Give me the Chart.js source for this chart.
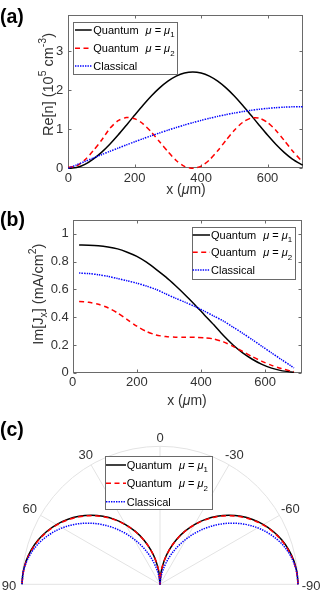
<!DOCTYPE html>
<html><head><meta charset="utf-8">
<script src="https://cdn.jsdelivr.net/npm/chart.js@4"></script>
<style>
html,body{margin:0;padding:0;background:#fff;width:333px;height:593px;overflow:hidden}
canvas{position:absolute;left:0}
</style></head><body>
<canvas id="ca" width="333" height="200" style="top:0px"></canvas>
<canvas id="cb" width="333" height="210" style="top:200px"></canvas>
<canvas id="cc" width="333" height="183" style="top:410px"></canvas>
<script>
// ---------- data ----------
const seriesNames = ['Quantum μ = μ1', 'Quantum μ = μ2', 'Classical'];

// panel (a): Re[n] (10^5 cm^-3) vs x (um)
const xA  = [0,25,50,75,100,125,150,175,200,225,250,275,300,325,350,375,400,425,450,475,500,525,550,575,600,625,650,675,700,706];
const aQ1 = [0,0.02,0.1,0.236,0.409,0.618,0.853,1.106,1.364,1.617,1.853,2.061,2.234,2.363,2.443,2.47,2.443,2.363,2.234,2.061,1.853,1.617,1.364,1.106,0.853,0.618,0.409,0.236,0.107,0.084];
const aQ2 = [0.03,0.06,0.215,0.449,0.718,1.02,1.22,1.30,1.27,1.14,0.93,0.68,0.43,0.2,0.05,0.0,0.056,0.215,0.449,0.718,0.975,1.176,1.286,1.286,1.176,0.975,0.718,0.449,0.215,0.17];
const aCl = [0,0.088,0.175,0.262,0.349,0.434,0.518,0.600,0.680,0.758,0.834,0.907,0.978,1.045,1.110,1.171,1.228,1.281,1.331,1.376,1.417,1.454,1.486,1.514,1.536,1.554,1.568,1.576,1.580,1.580];
const xTicksA = [0,200,400,600];
const yTicksA = [0,1,2,3];

// panel (b): Im[Jx] (mA/cm^2) vs x (um)
const xB  = [20,50,80,110,140,170,200,230,260,290,320,350,380,410,440,470,500,530,560,590,620,650,680,690];
const bQ1 = [0.920,0.919,0.915,0.906,0.892,0.868,0.838,0.796,0.745,0.690,0.628,0.562,0.492,0.418,0.345,0.268,0.200,0.143,0.097,0.060,0.033,0.015,0.005,0.003];
const bQ2 = [0.513,0.507,0.493,0.468,0.430,0.383,0.335,0.297,0.272,0.260,0.256,0.255,0.255,0.252,0.243,0.222,0.190,0.153,0.115,0.082,0.053,0.030,0.012,0.007];
const bCl = [0.718,0.714,0.706,0.694,0.678,0.662,0.645,0.624,0.600,0.568,0.537,0.508,0.478,0.444,0.408,0.372,0.328,0.284,0.238,0.190,0.143,0.096,0.050,0.034];
const xTicksB = [0,200,400,600];
const yTicksB = [0,0.2,0.4,0.6,0.8,1];

// panel (c): polar, angle in degrees, normalised r
const thetaC = [-90,-85,-80,-75,-70,-65,-60,-55,-50,-45,-40,-35,-30,-25,-20,-15,-10,-5,0,5,10,15,20,25,30,35,40,45,50,55,60,65,70,75,80,85,90];
const cQ1 = [1,0.996,0.985,0.966,0.940,0.906,0.866,0.819,0.766,0.707,0.643,0.574,0.5,0.423,0.342,0.259,0.174,0.087,0,0.087,0.174,0.259,0.342,0.423,0.5,0.574,0.643,0.707,0.766,0.819,0.866,0.906,0.940,0.966,0.985,0.996,1];
const cQ2 = [1,0.994,0.982,0.962,0.936,0.902,0.862,0.815,0.762,0.703,0.639,0.570,0.497,0.420,0.340,0.257,0.172,0.086,0,0.086,0.172,0.257,0.340,0.420,0.497,0.570,0.639,0.703,0.762,0.815,0.862,0.902,0.936,0.962,0.982,0.994,1];
const cCl = [1,0.995,0.979,0.953,0.917,0.871,0.818,0.757,0.689,0.616,0.539,0.459,0.379,0.300,0.223,0.151,0.086,0.033,0,0.033,0.086,0.151,0.223,0.300,0.379,0.459,0.539,0.616,0.689,0.757,0.818,0.871,0.917,0.953,0.979,0.995,1];
const angleTicks = [90,60,30,0,-30,-60,-90];

// ---------- helpers ----------
const FONT = '"Liberation Sans", Arial, Helvetica, sans-serif';
const TXT = '#333333', AXIS = '#6a6a6a', GRID = '#e3e3e3';
const STY = [
  {color:'#000000', dash:[], width:1.5, order:3},
  {color:'#ff0000', dash:[5,3.5], width:1.5, order:2},
  {color:'#0000ff', dash:[1.4,1.1], width:1.5, order:1}
];
const legendSegs = [
  [{t:'Quantum'},{t:'μ',it:true,pre:7},{t:' = '},{t:'μ',it:true},{t:'1',sub:true}],
  [{t:'Quantum'},{t:'μ',it:true,pre:7},{t:' = '},{t:'μ',it:true},{t:'2',sub:true}],
  [{t:'Classical'}]
];
function segFont(s, size){ const sz=(s.sub||s.sup)?size*0.72:size; return (s.it?'italic ':'')+(s.b?'bold ':'')+sz+'px '+FONT; }
function richWidth(ctx, segs, size){ let w=0; for(const s of segs){ ctx.font=segFont(s,size); w+=ctx.measureText(s.t).width+(s.pre||0);} return w; }
function drawRich(ctx, x, y, segs, size, align){
  const w=richWidth(ctx,segs,size);
  let cx = align==='center'? x-w/2 : (align==='right'? x-w : x);
  ctx.textAlign='left'; ctx.textBaseline='alphabetic';
  for(const s of segs){
    cx += s.pre||0;
    ctx.font=segFont(s,size);
    const dy = s.sub? size*0.3 : (s.sup? -size*0.42 : 0);
    ctx.fillText(s.t, cx, y+dy);
    cx += ctx.measureText(s.t).width;
  }
}
function drawLegend(ctx, box, rows, sx0, sx1, tx, size){
  ctx.save();
  ctx.fillStyle='#fff'; ctx.fillRect(box[0],box[1],box[2]-box[0],box[3]-box[1]);
  ctx.strokeStyle=AXIS; ctx.lineWidth=1;
  ctx.strokeRect(Math.round(box[0])+0.5,Math.round(box[1])+0.5,Math.round(box[2]-box[0]),Math.round(box[3]-box[1]));
  for(let i=0;i<3;i++){
    ctx.strokeStyle=STY[i].color; ctx.lineWidth=STY[i].width; ctx.setLineDash(STY[i].dash);
    ctx.beginPath(); ctx.moveTo(sx0, rows[i]); ctx.lineTo(sx1, rows[i]); ctx.stroke();
    ctx.setLineDash([]);
    ctx.fillStyle='#000';
    drawRich(ctx, tx, rows[i]+size*0.36, legendSegs[i], size, 'left');
  }
  ctx.restore();
}
function ds(xs, ys, i, extra){
  return Object.assign({label:seriesNames[i], data:xs.map((x,k)=>({x:x,y:ys[k]})), borderColor:STY[i].color,
    borderDash:STY[i].dash, borderWidth:STY[i].width, pointRadius:0, fill:false, tension:0.25, order:STY[i].order, clip:4}, extra||{});
}
const boxPlugin = {
  id:'boxTicks',
  beforeDatasetsDraw(chart, args, o){
    if(!o || !o.xt) return;
    const {ctx, chartArea:a, scales:{x,y}} = chart;
    const L=Math.round(a.left)+0.5, R=Math.round(a.right)-0.5, T=Math.round(a.top)+0.5, B=Math.round(a.bottom)-0.5;
    ctx.save(); ctx.strokeStyle=AXIS; ctx.lineWidth=1;
    ctx.strokeRect(L,T,R-L,B-T);
    ctx.beginPath();
    for(const v of o.xt){ const p=Math.round(x.getPixelForValue(v))+0.5; ctx.moveTo(p,B); ctx.lineTo(p,B-3); ctx.moveTo(p,T); ctx.lineTo(p,T+3); }
    for(const v of o.yt){ const p=Math.round(y.getPixelForValue(v))+0.5; ctx.moveTo(L,p); ctx.lineTo(L+3,p); ctx.moveTo(R,p); ctx.lineTo(R-3,p); }
    ctx.stroke(); ctx.restore();
  },
  afterDraw(chart, args, o){ if(o && o.deco) o.deco(chart.ctx, chart); }
};
function lineOptions(p){
  return {
    responsive:false, animation:false, devicePixelRatio:1,
    layout:{padding:{left:0,right:p.padR,top:p.padT,bottom:0}},
    scales:{
      x:{type:'linear', min:p.xmin, max:p.xmax, grid:{display:false,drawTicks:false}, border:{display:false},
         afterBuildTicks:s=>{s.ticks=p.xt.map(v=>({value:v}));}, afterFit:s=>{s.height=p.xh;},
         ticks:{padding:p.xpad, autoSkip:false, maxRotation:0, color:TXT, font:{size:13,family:FONT}, callback:v=>String(v)}},
      y:{type:'linear', min:p.ymin, max:p.ymax, grid:{display:false,drawTicks:false}, border:{display:false},
         afterBuildTicks:s=>{s.ticks=p.yt.map(v=>({value:v}));}, afterFit:s=>{s.width=p.yw;},
         ticks:{padding:p.ypad, autoSkip:false, color:TXT, font:{size:13,family:FONT}, callback:v=>String(v)}}
    },
    plugins:{legend:{display:false}, tooltip:{enabled:false}, boxTicks:{xt:p.xt, yt:p.yt, deco:p.deco}}
  };
}

// ---------- panel (a) ----------
new Chart(document.getElementById('ca'), {
  type:'line',
  data:{datasets:[ds(xA,aQ1,0), ds(xA,aQ2,1), ds(xA,aCl,2)]},
  options:lineOptions({padR:30.3, padT:15, xmin:0, xmax:706, ymin:0, ymax:3.93, xt:xTicksA, yt:yTicksA,
    xh:200-168.3, yw:68.3, xpad:2, ypad:5,
    deco:(ctx)=>{
      ctx.save(); ctx.fillStyle='#000';
      ctx.font='bold 19.5px '+FONT; ctx.textAlign='left'; ctx.textBaseline='alphabetic'; ctx.fillText('(a)',0,22.6);
      ctx.fillStyle=TXT;
      drawRich(ctx, 186, 194, [{t:'x ('},{t:'μ',it:true},{t:'m)'}], 14, 'center');
      ctx.translate(52.5, 84.5); ctx.rotate(-Math.PI/2);
      drawRich(ctx, 0, 0, [{t:'Re[n] (10'},{t:'5',sup:true},{t:' cm'},{t:'-3',sup:true},{t:')'}], 14.5, 'center');
      ctx.restore();
      drawLegend(ctx, [73.3,21.7,177.7,73.3], [30,48.3,66], 75, 91.7, 93.3, 11);
    }}),
  plugins:[boxPlugin]
});

// ---------- panel (b) ----------
new Chart(document.getElementById('cb'), {
  type:'line',
  data:{datasets:[ds(xB,bQ1,0), ds(xB,bQ2,1), ds(xB,bCl,2)]},
  options:lineOptions({padR:31.3, padT:20, xmin:0, xmax:714, ymin:0, ymax:1.1, xt:xTicksB, yt:yTicksB,
    xh:210-172.7, yw:72.7, xpad:2, ypad:4,
    deco:(ctx)=>{
      ctx.save(); ctx.fillStyle='#000';
      ctx.font='bold 19.5px '+FONT; ctx.textAlign='left'; ctx.textBaseline='alphabetic'; ctx.fillText('(b)',0,25.5);
      ctx.fillStyle=TXT;
      drawRich(ctx, 187, 205.4, [{t:'x ('},{t:'μ',it:true},{t:'m)'}], 14, 'center');
      ctx.translate(42.5, 94.2); ctx.rotate(-Math.PI/2);
      drawRich(ctx, 0, 0, [{t:'Im[J'},{t:'x',sub:true},{t:'] (mA/cm'},{t:'2',sup:true},{t:')'}], 14.5, 'center');
      ctx.restore();
      drawLegend(ctx, [191.7,26.7,295,78.3], [35,52.3,70], 192.7, 210, 211, 11);
    }}),
  plugins:[boxPlugin]
});

// ---------- panel (c) polar ----------
function toXY(rs){ return rs.map((r,k)=>{ const t=thetaC[k]*Math.PI/180; return {x:-r*Math.sin(t), y:r*Math.cos(t)}; }); }
const polarPlugin = {
  id:'polarGrid',
  beforeDatasetsDraw(chart){
    const {ctx, scales:{x,y}} = chart;
    const cx=x.getPixelForValue(0), cy=y.getPixelForValue(0), R=x.getPixelForValue(1)-cx;
    ctx.save(); ctx.strokeStyle=GRID; ctx.lineWidth=1;
    ctx.beginPath(); ctx.arc(cx,cy,R,Math.PI,2*Math.PI); ctx.stroke();
    ctx.beginPath();
    for(const a of angleTicks){ const t=a*Math.PI/180; ctx.moveTo(cx,cy); ctx.lineTo(cx-R*Math.sin(t), cy-R*Math.cos(t)); }
    ctx.stroke(); ctx.restore();
  },
  afterDraw(chart){
    const {ctx, scales:{x,y}} = chart;
    const cx=x.getPixelForValue(0), cy=y.getPixelForValue(0), R=x.getPixelForValue(1)-cx;
    ctx.save(); ctx.fillStyle=TXT; ctx.font='13px '+FONT; ctx.textAlign='center'; ctx.textBaseline='middle';
    for(const a of angleTicks){
      const t=a*Math.PI/180, rl=R*(1.06+0.035*Math.abs(Math.sin(t)));
      ctx.fillText(String(a), cx-rl*Math.sin(t), cy-rl*Math.cos(t)+(Math.abs(a)===90?2.5:0));
    }
    ctx.fillStyle='#000'; ctx.font='bold 19.5px '+FONT; ctx.textAlign='left'; ctx.textBaseline='alphabetic';
    ctx.fillText('(c)',0,25.8);
    ctx.restore();
    drawLegend(ctx, [105,46,211.7,99], [55,73.3,91.7], 106, 126, 126.7, 11);
  }
};
new Chart(document.getElementById('cc'), {
  type:'scatter',
  data:{datasets:[
    ds([],[],0,{data:toXY(cQ1), showLine:true, clip:false, tension:0.35}),
    ds([],[],1,{data:toXY(cQ2), showLine:true, clip:false, tension:0.35}),
    ds([],[],2,{data:toXY(cCl), showLine:true, clip:false, tension:0.35})
  ]},
  options:{
    responsive:false, animation:false, devicePixelRatio:1,
    layout:{padding:{left:22,right:35,top:36.3,bottom:8.7}},
    scales:{x:{type:'linear',min:-1,max:1,display:false}, y:{type:'linear',min:0,max:1,display:false}},
    plugins:{legend:{display:false}, tooltip:{enabled:false}}
  },
  plugins:[polarPlugin]
});
</script>
</body></html>
